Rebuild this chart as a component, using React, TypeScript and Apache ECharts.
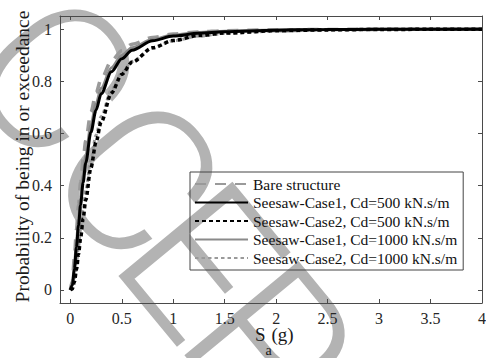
import React, { useEffect, useRef } from "react";
import * as echarts from "echarts";

// Spectral acceleration Sa (g) sample points
const SA = [0, 0.02, 0.04, 0.06, 0.08, 0.1, 0.125, 0.15, 0.2, 0.25, 0.3, 0.4, 0.5, 0.6, 0.8, 1.0, 1.25, 1.5, 2, 2.5, 3, 3.5, 4];

// Probability of being in or exceeding the damage state
const BARE = [0, 0.033, 0.127, 0.232, 0.328, 0.412, 0.5, 0.572, 0.681, 0.756, 0.809, 0.878, 0.917, 0.942, 0.968, 0.981, 0.989, 0.9935, 0.9972, 0.9986, 0.9993, 0.9996, 0.9997];
const CASE1_CD500 = [0, 0.017, 0.081, 0.164, 0.248, 0.326, 0.412, 0.487, 0.604, 0.689, 0.752, 0.836, 0.886, 0.919, 0.955, 0.973, 0.984, 0.99, 0.9958, 0.9979, 0.9989, 0.9993, 0.9996];
const CASE2_CD500 = [0, 0.004, 0.031, 0.078, 0.136, 0.198, 0.274, 0.345, 0.468, 0.567, 0.644, 0.755, 0.826, 0.873, 0.928, 0.956, 0.975, 0.9845, 0.9934, 0.9968, 0.9983, 0.999, 0.9994];
const CASE1_CD1000 = [0, 0.021, 0.092, 0.182, 0.27, 0.351, 0.439, 0.514, 0.63, 0.713, 0.773, 0.852, 0.899, 0.928, 0.961, 0.977, 0.987, 0.992, 0.9966, 0.9983, 0.9991, 0.9995, 0.9997];
const CASE2_CD1000 = [0, 0.008, 0.045, 0.103, 0.167, 0.233, 0.31, 0.381, 0.5, 0.593, 0.665, 0.767, 0.833, 0.876, 0.928, 0.955, 0.973, 0.983, 0.9923, 0.9961, 0.9978, 0.9987, 0.9992];

const SERIES_NAMES = [
  "Bare structure",
  "Seesaw-Case1, Cd=500 kN.s/m",
  "Seesaw-Case2, Cd=500 kN.s/m",
  "Seesaw-Case1, Cd=1000 kN.s/m",
  "Seesaw-Case2, Cd=1000 kN.s/m",
];

const X_TICKS = [0, 0.5, 1, 1.5, 2, 2.5, 3, 3.5, 4];
const Y_TICKS = [0, 0.2, 0.4, 0.6, 0.8, 1];

const SERIF = "'Liberation Serif', 'Times New Roman', serif";
const AXIS_COLOR = "#4a4a4a";
const LABEL_COLOR = "#262626";
const TITLE_COLOR = "#1a1a1a";

// Diagonal stamp lettering behind the plot
const STAMP_LETTERS = [
  { ch: "C", x: 53, y: 78 },
  { ch: "C", x: 136, y: 180 },
  { ch: "E", x: 199, y: 262 },
  { ch: "P", x: 268, y: 345 },
];

const pairs = (ys: number[]) => SA.map((x, i) => [x, ys[i]]);

export default function App() {
  const ref = useRef<HTMLDivElement>(null);

  useEffect(() => {
    document.body.style.margin = "0";
    const chart = echarts.init(ref.current!, undefined, { renderer: "svg" });

    const boxAxisX = (pos: "bottom" | "top", main: boolean) => ({
      type: "value",
      position: pos,
      min: -0.1,
      max: 4,
      axisLine: { show: true, onZero: false, lineStyle: { color: AXIS_COLOR, width: 1 } },
      axisTick: { show: true, inside: true, length: 4, customValues: X_TICKS, lineStyle: { color: AXIS_COLOR } },
      axisLabel: main
        ? { show: true, customValues: X_TICKS, margin: 7, fontFamily: SERIF, fontSize: 16, color: LABEL_COLOR }
        : { show: false },
      splitLine: { show: false },
    });

    const boxAxisY = (pos: "left" | "right", main: boolean) => ({
      type: "value",
      position: pos,
      min: -0.05,
      max: 1.05,
      axisLine: { show: true, onZero: false, lineStyle: { color: AXIS_COLOR, width: 1 } },
      axisTick: { show: true, inside: true, length: 4, customValues: Y_TICKS, lineStyle: { color: AXIS_COLOR } },
      axisLabel: main
        ? { show: true, customValues: Y_TICKS, margin: 8, fontFamily: SERIF, fontSize: 16, color: LABEL_COLOR }
        : { show: false },
      splitLine: { show: false },
    });

    const yMain: any = boxAxisY("left", true);
    yMain.name = "Probability of being in or exceedance";
    yMain.nameLocation = "middle";
    yMain.nameGap = 28;
    yMain.nameMoveOverlap = false;
    yMain.nameTextStyle = { fontFamily: SERIF, fontSize: 19.5, color: TITLE_COLOR, padding: [0, 0, 0, 6] };

    const lineSeries = (name: string, ys: number[], color: string, width: number, type: any, z: number) => ({
      name,
      type: "line",
      data: pairs(ys),
      xAxisIndex: 0,
      yAxisIndex: 0,
      symbol: "none",
      showSymbol: false,
      smooth: 0.3,
      smoothMonotone: "x",
      z,
      itemStyle: { color },
      lineStyle: { color, width, type, cap: "butt" },
    });

    const stamp = STAMP_LETTERS.map((l) => ({
      type: "text",
      x: l.x,
      y: l.y,
      rotation: -0.881,
      z: -10,
      silent: true,
      style: {
        text: l.ch,
        fontFamily: "Roboto",
        fontWeight: 300,
        fontSize: 208,
        fill: "#b3b3b3",
        textAlign: "center",
        textVerticalAlign: "middle",
      },
    }));

    // x-axis title: S with subscript a, followed by (g)
    const xTitle = {
      type: "group",
      silent: true,
      z: 10,
      children: [
        { type: "text", x: 255, y: 334, style: { text: "S", fontFamily: SERIF, fontSize: 19, fill: TITLE_COLOR, textAlign: "left", textVerticalAlign: "middle" } },
        { type: "text", x: 265.5, y: 350, style: { text: "a", fontFamily: SERIF, fontSize: 14, fill: TITLE_COLOR, textAlign: "left", textVerticalAlign: "middle" } },
        { type: "text", x: 271.5, y: 334, style: { text: "(g)", fontFamily: SERIF, fontSize: 19, fill: TITLE_COLOR, textAlign: "left", textVerticalAlign: "middle" } },
      ],
    };

    const option: any = {
      animation: false,
      backgroundColor: "#ffffff",
      grid: { left: 60, right: 4, top: 16, bottom: 55, containLabel: false, outerBoundsMode: "none" },
      xAxis: [boxAxisX("bottom", true), boxAxisX("top", false)],
      yAxis: [yMain, boxAxisY("right", false)],
      legend: {
        orient: "vertical",
        left: 190,
        top: 172,
        itemWidth: 53,
        itemHeight: 14,
        itemGap: 2.5,
        padding: [4, 6, 4, 4],
        borderColor: "#444",
        borderWidth: 1,
        backgroundColor: "transparent",
        selectedMode: false,
        itemStyle: { opacity: 0 },
        textStyle: { fontFamily: SERIF, fontSize: 15.5, color: "#111" },
        data: SERIES_NAMES,
      },
      graphic: [...stamp, xTitle],
      series: [
        lineSeries(SERIES_NAMES[0], BARE, "#9a9a9a", 3.5, [11, 9], 2),
        lineSeries(SERIES_NAMES[1], CASE1_CD500, "#000000", 3, "solid", 4),
        lineSeries(SERIES_NAMES[2], CASE2_CD500, "#000000", 3.5, [4, 3], 4),
        lineSeries(SERIES_NAMES[3], CASE1_CD1000, "#8a8a8a", 3, "solid", 3),
        lineSeries(SERIES_NAMES[4], CASE2_CD1000, "#9a9a9a", 3, [3.5, 3], 3),
      ],
    };

    chart.setOption(option);
    return () => chart.dispose();
  }, []);

  return <div ref={ref} style={{ position: "fixed", left: 0, top: 0, width: 486, height: 358 }} />;
}
